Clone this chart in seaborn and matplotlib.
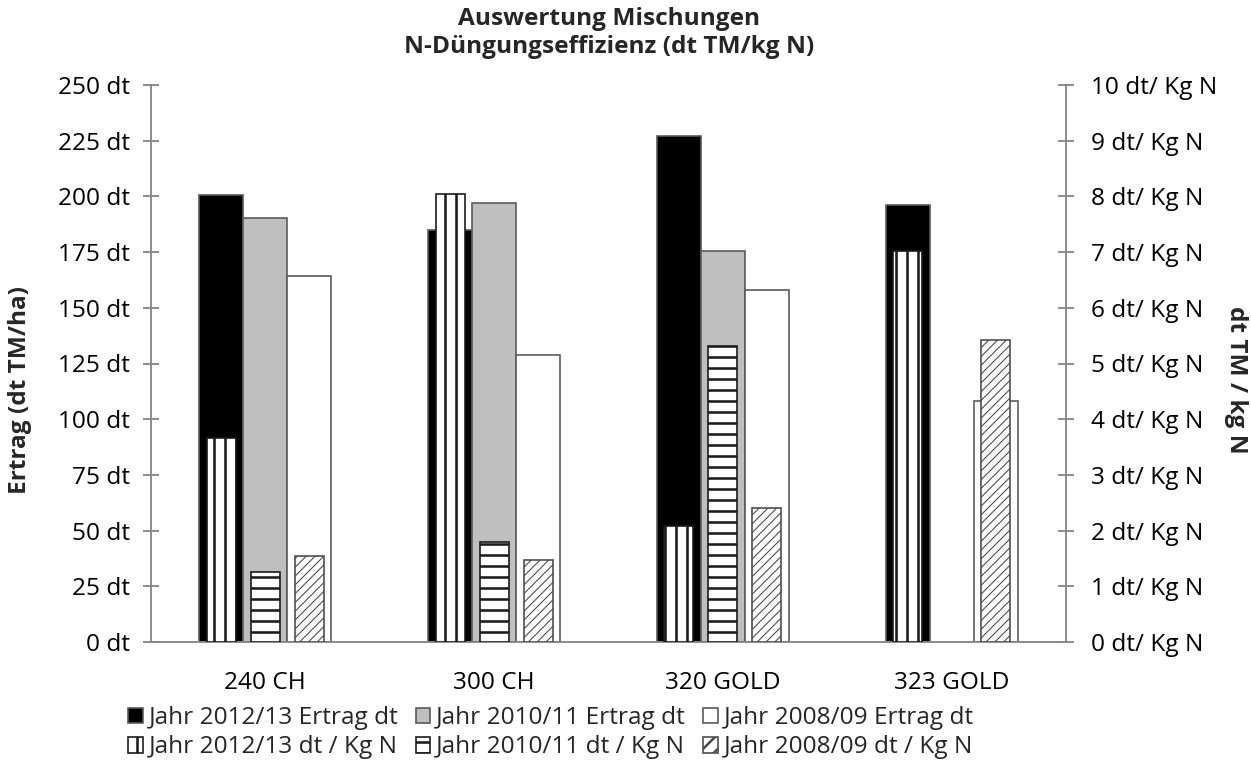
import matplotlib
matplotlib.use("Agg")
import matplotlib.pyplot as plt
import seaborn as sns
import pandas as pd
import numpy as np
from matplotlib.patches import Patch

# ---------------- data ----------------
categories = ["240 CH", "300 CH", "320 GOLD", "323 GOLD"]
years = ["2012/13", "2010/11", "2008/09"]
ertrag_2012 = [200.8, 185.0, 227.3, 196.3]
ertrag_2010 = [190.4, 197.2, 175.4, np.nan]
ertrag_2008 = [164.1, 129.0, 158.0, 108.0]
eff_2012 = [3.66, 8.04, 2.09, 7.02]
eff_2010 = [1.25, 1.80, 5.31, np.nan]
eff_2008 = [1.54, 1.48, 2.40, 5.42]
left_ticks = [0, 25, 50, 75, 100, 125, 150, 175, 200, 225, 250]
right_ticks = [0, 1, 2, 3, 4, 5, 6, 7, 8, 9, 10]

ertrag_labels = [f"Jahr {y} Ertrag dt" for y in years]
eff_labels = [f"Jahr {y} dt / Kg N" for y in years]

rows1 = []
for lab, vals in zip(ertrag_labels, [ertrag_2012, ertrag_2010, ertrag_2008]):
    for c, v in zip(categories, vals):
        rows1.append({"Sorte": c, "Serie": lab, "Wert": v})
df1 = pd.DataFrame(rows1)
rows2 = []
for lab, vals in zip(eff_labels, [eff_2012, eff_2010, eff_2008]):
    for c, v in zip(categories, vals):
        rows2.append({"Sorte": c, "Serie": lab, "Wert": v})
df2 = pd.DataFrame(rows2)

# ---------------- style ----------------
sns.set_theme(style="white")
FONT = ["Open Sans", "DejaVu Sans"]
plt.rcParams["font.family"] = FONT
plt.rcParams["hatch.linewidth"] = 1.4
FS = 13.3
AXC = "#868686"
EDGE = "#595959"

DPI = 132
fig = plt.figure(figsize=(1251 / DPI, 767 / DPI), dpi=DPI)
fig.patch.set_facecolor("white")
L, R, B, T = 151, 1066, 642, 85
ax = fig.add_axes([L / 1251, 1 - B / 767, (R - L) / 1251, (B - T) / 767])

prim_colors = ["#000000", "#BFBFBF", "#FFFFFF"]
sns.barplot(data=df1, x="Sorte", y="Wert", hue="Serie", order=categories,
            hue_order=ertrag_labels, palette=prim_colors, saturation=1,
            width=0.578, errorbar=None, edgecolor=EDGE, linewidth=0.9,
            legend=False, ax=ax)

ax2 = ax.twinx()
sns.barplot(data=df2, x="Sorte", y="Wert", hue="Serie", order=categories,
            hue_order=eff_labels, palette=["#FFFFFF"] * 3, saturation=1,
            width=0.578, gap=0.34, errorbar=None, edgecolor="#262626",
            linewidth=0.9, legend=False, ax=ax2)

hatches = ["||", "--", "/////"]
hatch_edges = ["#1a1a1a", "#1a1a1a", "#4d4d4d"]
hatch_lw = [1.4, 1.4, 0.6]
for cont, h, ec, hl in zip(ax2.containers, hatches, hatch_edges, hatch_lw):
    for p in cont:
        p.set_hatch(h)
        p.set_edgecolor(ec)
        if hasattr(p, "set_hatch_linewidth"):
            p.set_hatch_linewidth(hl)

# axes limits & ticks
ax.set_ylim(0, 250)
ax2.set_ylim(0, 10)
ax.set_xlim(-0.5, 3.5)
ax.set_yticks(left_ticks)
ax.set_yticklabels([f"{v} dt" for v in left_ticks])
ax2.set_yticks(right_ticks)
ax2.set_yticklabels([f"{v} dt/ Kg N" for v in right_ticks])

for a in (ax, ax2):
    for s in a.spines.values():
        s.set_visible(False)
    a.grid(False)
    a.set_facecolor("none")
ax.spines["left"].set_visible(True)
ax.spines["left"].set_color(AXC)
ax.spines["bottom"].set_visible(True)
ax.spines["bottom"].set_color(AXC)
ax2.spines["right"].set_visible(True)
ax2.spines["right"].set_color(AXC)
for s in (ax.spines["left"], ax.spines["bottom"], ax2.spines["right"]):
    s.set_linewidth(1.0)

ax.tick_params(axis="y", direction="inout", length=9, width=1.0, color=AXC,
               labelsize=FS, labelcolor="black", pad=7, left=True)
ax2.tick_params(axis="y", direction="inout", length=9, width=1.0, color=AXC,
                labelsize=FS, labelcolor="black", pad=9, right=True)
ax.tick_params(axis="x", length=0, labelsize=FS, labelcolor="black", pad=16)
ax2.tick_params(axis="x", length=0, labelbottom=False)

ax.set_xlabel("")
ax2.set_xlabel("")
ax.set_ylabel("")
ax2.set_ylabel("")

fig.text(20 / 1251, 1 - 390 / 767, "Ertrag (dt TM/ha)", rotation=90,
         fontsize=FS, fontweight="bold", ha="center", va="center")
fig.text(1236 / 1251, 1 - 380 / 767, "dt TM / kg N", rotation=-90,
         fontsize=FS, fontweight="bold", ha="center", va="center")

fig.text(609 / 1251, 1 - 19 / 767, "Auswertung Mischungen",
         fontsize=FS, fontweight="bold", ha="center", va="center")
fig.text(609 / 1251, 1 - 47 / 767, "N-Düngungseffizienz (dt TM/kg N)",
         fontsize=FS, fontweight="bold", ha="center", va="center")

# legend
handles = []
labels = []
for i in range(3):
    handles.append(Patch(facecolor=prim_colors[i], edgecolor=EDGE, linewidth=0.9))
    labels.append(ertrag_labels[i])
    hp = Patch(facecolor="white", edgecolor=hatch_edges[i],
               hatch=["||", "--", "///"][i], linewidth=0.9)
    if hasattr(hp, "set_hatch_linewidth"):
        hp.set_hatch_linewidth(hatch_lw[i])
    handles.append(hp)
    labels.append(eff_labels[i])

fig.legend(handles, labels, ncol=3, loc="upper left",
           bbox_to_anchor=(128 / 1251, 1 - 706 / 767), frameon=False,
           fontsize=FS, handlelength=0.6, handleheight=0.6,
           handletextpad=0.25, columnspacing=0.7, labelspacing=0.22,
           borderpad=0, borderaxespad=0)

fig.savefig("out.png", dpi=DPI, facecolor="white")
